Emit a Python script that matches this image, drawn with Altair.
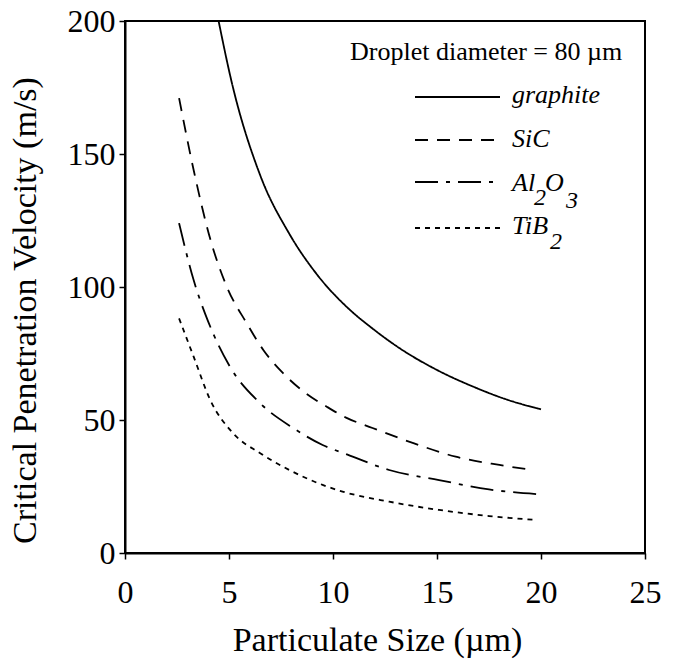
import altair as alt
import pandas as pd

# ---- data ----
materials = ["graphite", "SiC", "Al2O3", "TiB2"]

graphite_x = [4.5, 5.1, 6.5, 7.9, 9.2, 10.8, 11.8, 13.2, 15.0, 16.75, 18.35, 20.0]
graphite_y = [200, 178, 142, 120, 105, 91.5, 85, 77, 68.8, 62.5, 57.7, 54]

sic_x = [2.6, 3.3, 4.1, 4.9, 5.85, 6.65, 7.6, 8.7, 9.7, 10.6, 11.9, 13.9, 15.9, 18.0, 19.6]
sic_y = [171, 144, 118, 100, 86.4, 76.3, 67.6, 60, 55, 51, 47, 41.2, 36.2, 33.1, 31.2]

al2o3_x = [2.6, 3.3, 4.0, 5.05, 6.5, 8.1, 9.5, 10.7, 12.7, 15.1, 17.5, 20.0]
al2o3_y = [124, 102.6, 87, 70, 56.3, 46.9, 40.6, 37, 31.2, 27.4, 23.9, 22]

tib2_x = [2.6, 3.3, 4.1, 5.2, 6.5, 7.9, 9.5, 10.5, 12.7, 15.1, 17.5, 19.8]
tib2_y = [88.2, 73.8, 57.5, 45, 37.5, 31.2, 25.6, 23, 19.3, 16.2, 13.9, 12.4]

x_ticks = [0, 5, 10, 15, 20, 25]
y_ticks = [0, 50, 100, 150, 200]

series = {
    "graphite": (graphite_x, graphite_y),
    "SiC": (sic_x, sic_y),
    "Al2O3": (al2o3_x, al2o3_y),
    "TiB2": (tib2_x, tib2_y),
}
rows = []
for m, (xs, ys) in series.items():
    for xv, yv in zip(xs, ys):
        rows.append({"material": m, "size": xv, "velocity": yv})
df = pd.DataFrame(rows)

FONT = "Liberation Serif"
dashes = [[1, 0], [13, 9], [23, 8, 4, 8], [5, 5]]

lines = alt.Chart(df).mark_line(
    color="black", strokeWidth=1.8, interpolate="monotone", clip=True
).encode(
    x=alt.X("size:Q", scale=alt.Scale(domain=[0, 25], nice=False),
            axis=alt.Axis(values=x_ticks, title="Particulate Size (µm)",
                          titleX=252, titleY=97, titleBaseline="alphabetic",
                          labelPadding=18)),
    y=alt.Y("velocity:Q", scale=alt.Scale(domain=[0, 200], nice=False),
            axis=alt.Axis(values=y_ticks, title="Critical Penetration Velocity (m/s)",
                          titleX=-100, titleY=289, titleBaseline="middle",
                          titleAngle=-90, labelPadding=4)),
    strokeDash=alt.StrokeDash("material:N",
                              scale=alt.Scale(domain=materials, range=dashes),
                              legend=None),
    detail="material:N",
)

one = pd.DataFrame({"k": [0]})


def txt(text, x, y, size=26, italic=False):
    return alt.Chart(one).mark_text(
        text=text, font=FONT, fontSize=size, align="left", baseline="alphabetic",
        fontStyle="italic" if italic else "normal", color="black"
    ).encode(x=alt.value(x), y=alt.value(y))


def seg(y, dash):
    return alt.Chart(one).mark_rule(
        color="black", strokeWidth=1.8, strokeDash=dash
    ).encode(x=alt.value(290), x2=alt.value(375), y=alt.value(y))


# plot origin is at page (125, 21)
annot = [
    txt("Droplet diameter = 80 µm", 225, 39),
    seg(76, dashes[0]), txt("graphite", 387, 82, italic=True),
    seg(119, dashes[1]), txt("SiC", 387, 126, italic=True),
    seg(161, dashes[2]), txt("Al", 387, 170, italic=True),
    txt("2", 409, 184, size=24, italic=True), txt("O", 420, 170, italic=True),
    txt("3", 441, 187, size=24, italic=True),
    seg(207, dashes[3]), txt("TiB", 387, 213, italic=True),
    txt("2", 425, 228, size=24, italic=True),
]

chart = alt.layer(lines, *annot).properties(
    width=520, height=532,
    autosize=alt.AutoSizeParams(type="none"),
    padding={"left": 117, "top": 13, "right": 20, "bottom": 110},
).configure_view(
    stroke="black", strokeWidth=2
).configure_axis(
    grid=False, domainColor="black", domainWidth=2, tickColor="black",
    tickWidth=1.5, tickSize=6, labelFont=FONT, labelFontSize=32,
    labelColor="black", titleFont=FONT, titleFontSize=34,
    titleFontWeight="normal", titleColor="black", labelFlush=False,
).configure_axisY(labelAlign="right")

chart.save("out.html", embed_options={"renderer": "svg", "actions": False})
